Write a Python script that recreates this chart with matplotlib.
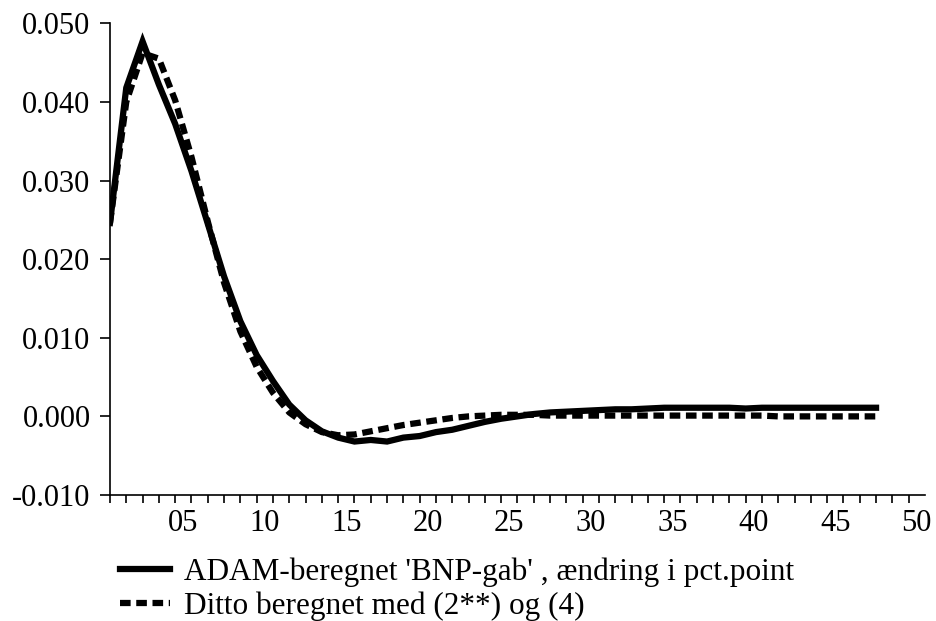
import numpy as np
import matplotlib
matplotlib.use('Agg')
from matplotlib import pyplot as plt
from matplotlib.ticker import FixedLocator

plt.rcParams['font.family'] = ['Liberation Serif', 'DejaVu Serif']

# periods 1..48, drawn on a 50-category axis
periods = np.arange(1, 49)
adam_gap = [0.0246, 0.0418, 0.0477, 0.0422, 0.0372, 0.0312, 0.0245, 0.0178,
            0.0121, 0.0078, 0.0045, 0.0015, -0.0005, -0.0019, -0.0027, -0.0032,
            -0.0030, -0.0032, -0.0027, -0.0025, -0.0020, -0.0017, -0.0012, -0.0007,
            -0.0003, 0.0000, 0.0003, 0.0005, 0.0006, 0.0007, 0.0008, 0.0009,
            0.0009, 0.0010, 0.0011, 0.0011, 0.0011, 0.0011, 0.0011, 0.0010,
            0.0011, 0.0011, 0.0011, 0.0011, 0.0011, 0.0011, 0.0011, 0.0011]
ditto = [0.0246, 0.0400, 0.0462, 0.0455, 0.0402, 0.0330, 0.0248, 0.0170,
         0.0108, 0.0063, 0.0030, 0.0005, -0.0010, -0.0020, -0.0024, -0.0023,
         -0.0019, -0.0015, -0.0011, -0.0008, -0.0005, -0.0002, 0.0000, 0.0001,
         0.0002, 0.0002, 0.0002, 0.0001, 0.0001, 0.0001, 0.0001, 0.0001,
         0.0001, 0.0001, 0.0001, 0.0001, 0.0001, 0.0001, 0.0001, 0.0001,
         0.0001, 0.0000, 0.0000, 0.0000, 0.0000, 0.0000, 0.0000, 0.0000]
n_categories = 50
x_labels = ['05', '10', '15', '20', '25', '30', '35', '40', '45', '50']
y_ticks = [-0.010, 0.000, 0.010, 0.020, 0.030, 0.040, 0.050]
labels = ["ADAM-beregnet 'BNP-gab' , ændring i pct.point",
          "Ditto beregnet med (2**) og (4)"]

fig = plt.figure(figsize=(9.36, 6.21), dpi=100)
ax = fig.add_axes([0.1175, 0.2029, 0.8707, 0.7596])

xpos = periods - 0.5
ax.plot(xpos, adam_gap, color='black', lw=4.5, solid_joinstyle='miter', label=labels[0])
ax.plot(xpos, ditto, color='black', lw=4.5, linestyle=(0, (1.7, 0.9)), label=labels[1])

ax.set_xlim(0.5, n_categories + 0.5)
ax.set_ylim(-0.010, 0.050)

ax.spines['top'].set_visible(False)
ax.spines['right'].set_visible(False)
ax.spines['left'].set_linewidth(1.2)
ax.spines['bottom'].set_linewidth(1.2)

ax.set_yticks(y_ticks)
ax.set_yticklabels([f'{v:.3f}' for v in y_ticks])
ax.tick_params(axis='y', direction='out', length=7, width=1.2, pad=7, labelsize=22)

ax.xaxis.set_major_locator(FixedLocator(np.arange(5, n_categories + 1, 5)))
ax.set_xticklabels(x_labels)
ax.xaxis.set_minor_locator(FixedLocator(np.arange(0.5, n_categories, 1)))
ax.tick_params(axis='x', which='major', length=0, pad=10, labelsize=22)
ax.tick_params(axis='x', which='minor', direction='out', length=6, width=1.2)

fig.legend(loc='upper left', bbox_to_anchor=(0.128, 0.103), frameon=False,
           fontsize=22.5, handlelength=1.6, handletextpad=0.45,
           labelspacing=0.15, borderpad=0, borderaxespad=0)

fig.savefig('out.png', dpi=100)
